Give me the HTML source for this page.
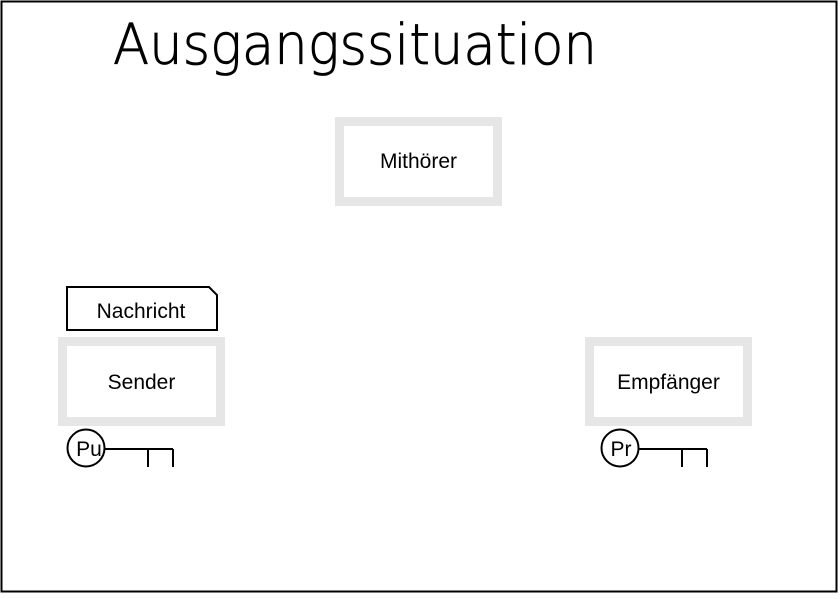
<!DOCTYPE html>
<html><head><style>body{margin:0;background:#fff}</style></head><body>
<svg width="840" height="594" xmlns="http://www.w3.org/2000/svg" font-family="Liberation Sans, DejaVu Sans, sans-serif">
<rect x="1.5" y="1.5" width="835" height="590" fill="#fff" stroke="#000" stroke-width="2"/>
<text x="113" y="64" font-size="56" font-family="DejaVu Sans ExtraLight, DejaVu Sans Light, Liberation Sans, sans-serif" font-weight="200" textLength="484" lengthAdjust="spacingAndGlyphs" fill="#000" stroke="#000" stroke-width="0.8">Ausgangssituation</text>
<rect x="339.5" y="121.5" width="158" height="80" fill="#fff" stroke="#e6e6e6" stroke-width="9"/>
<text x="418.5" y="168" font-size="21" text-anchor="middle">Mithörer</text>
<rect x="62.5" y="341.5" width="158" height="80" fill="#fff" stroke="#e6e6e6" stroke-width="9"/>
<text x="141.5" y="389" font-size="21" text-anchor="middle">Sender</text>
<rect x="589.5" y="341.5" width="158" height="80" fill="#fff" stroke="#e6e6e6" stroke-width="9"/>
<text x="668.5" y="389" font-size="21" text-anchor="middle">Empfänger</text>
<path d="M67 287 H209 L217 295 V330 H67 Z" fill="#fff" stroke="#000" stroke-width="2"/>
<text x="141" y="318" font-size="21" text-anchor="middle">Nachricht</text>
<circle cx="86" cy="448" r="18.5" fill="#fff" stroke="#000" stroke-width="2"/>
<text x="89" y="456" font-size="21" text-anchor="middle">Pu</text>
<path d="M105 449 H173 M148 449 V467 M173 449 V467" stroke="#000" stroke-width="2" fill="none"/>
<circle cx="620" cy="448" r="18.5" fill="#fff" stroke="#000" stroke-width="2"/>
<text x="621" y="456" font-size="21" text-anchor="middle">Pr</text>
<path d="M639 449 H707 M682 449 V467 M707 449 V467" stroke="#000" stroke-width="2" fill="none"/>
</svg>
</body></html>
